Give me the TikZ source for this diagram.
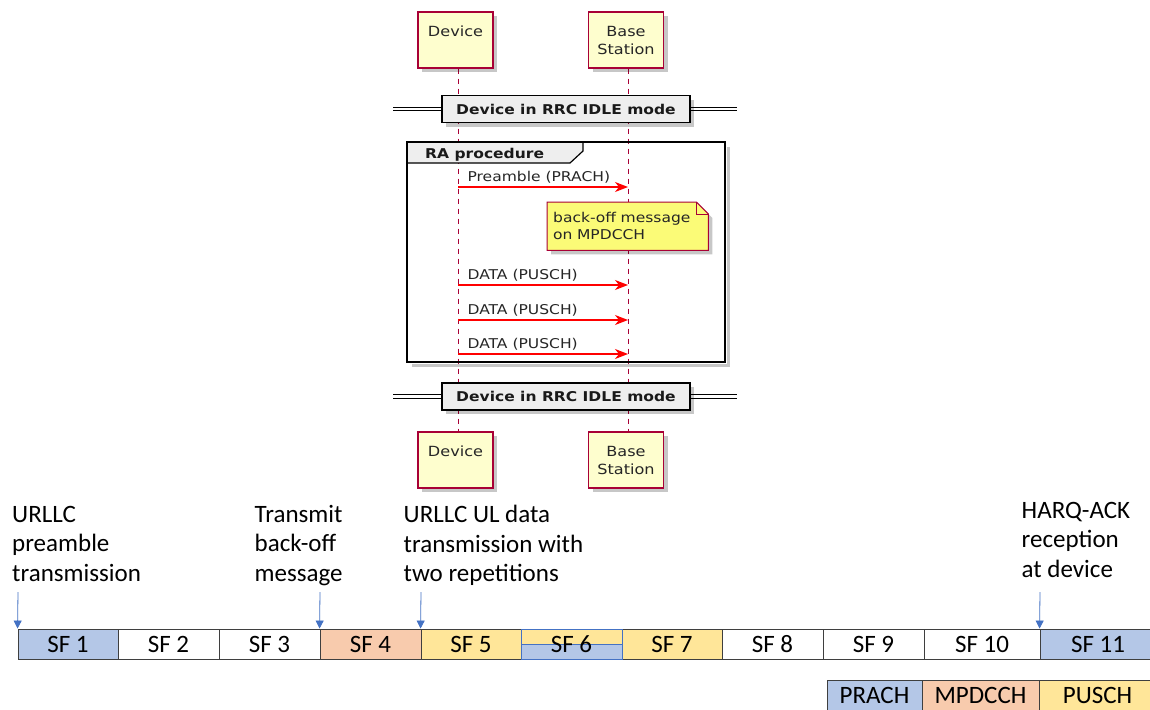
\documentclass[tikz,border=0pt]{standalone}
\usepackage{fontspec}
\setmainfont{Carlito}
\newfontfamily\seqfont[FakeStretch=1.15]{DejaVu Sans}
\usetikzlibrary{arrows.meta,shadows}
\pgfdeclarelayer{back}
\pgfsetlayers{back,main}

\definecolor{partfill}{HTML}{FEFECE}
\definecolor{partline}{HTML}{A80036}
\definecolor{notefill}{HTML}{FBFB77}
\definecolor{divfill}{HTML}{EEEEEE}
\definecolor{msgred}{HTML}{FF0000}
\definecolor{prachblue}{HTML}{B4C7E7}
\definecolor{mpdcchorange}{HTML}{F8CBAD}
\definecolor{puschyellow}{HTML}{FFE699}
\definecolor{markblue}{HTML}{4472C4}
\definecolor{gridline}{HTML}{3F3F3F}

\newcommand\firstlinestrut{\rule{0pt}{17pt}}

\tikzset{
  seqshadow/.style={drop shadow={shadow xshift=4pt, shadow yshift=-4pt, fill=black, opacity=0.22}},
  part/.style={draw=partline, line width=1.3pt, fill=partfill, minimum width=75pt,
    minimum height=56pt, inner sep=0pt, align=center, text=black!85,
    font={\seqfont\fontsize{14}{18}\selectfont}, seqshadow},
  lifeline/.style={draw=partline, line width=1pt, dash pattern=on 5pt off 5pt},
  divbar/.style={draw=black, line width=1pt, double=white, double distance=2.4pt},
  divbox/.style={draw=black, line width=1.6pt, fill=divfill, minimum width=248pt,
    minimum height=27pt, inner sep=0pt, text=black!90,
    font={\seqfont\bfseries\fontsize{13.5}{16}\selectfont}, seqshadow},
  msg/.style={draw=msgred, line width=1.2pt, -{Stealth[length=13pt,width=10pt,inset=4pt]}},
  msglabel/.style={font={\seqfont\fontsize{13.5}{16}\selectfont}, text=black!85,
    inner sep=0pt, anchor=base west},
  notetext/.style={font={\seqfont\fontsize{13.5}{17}\selectfont}, text=black!85,
    align=left, text width=149pt, inner xsep=6pt, inner ysep=0pt, minimum height=48pt},
  sfbox/.style={draw=gridline, line width=0.9pt, minimum height=30pt, inner sep=0pt,
    font={\fontsize{25}{29.5}\selectfont}},
  pointer/.style={draw=markblue, line width=0.8pt, -{Triangle[length=8pt,width=8pt]}, markblue},
  eventlabel/.style={anchor=north west, inner sep=0pt, align=left,
    font={\fontsize{25}{29.5}\selectfont}}
}

\begin{document}
\begin{tikzpicture}[x=1pt,y=-1pt]
\useasboundingbox (0,0) rectangle (1150,709);
\begin{pgfonlayer}{back}
  \fill[white] (0,0) rectangle (1150,709);
\end{pgfonlayer}

% ---------- participants ----------
\node[part] (dtop) at (455.5,40) {Device\\\phantom{Station}};
\node[part] (btop) at (626,40) {Base\\Station};
\node[part] (dbot) at (455.5,460) {Device\\\phantom{Station}};
\node[part] (bbot) at (626,460) {Base\\Station};

\begin{pgfonlayer}{back}
  \draw[lifeline] ([xshift=2.5pt]dtop.south) -- ([xshift=2.5pt]dbot.north);
  \draw[lifeline] ([xshift=2pt]btop.south) -- ([xshift=2pt]bbot.north);
\end{pgfonlayer}

% ---------- upper divider ----------
\coordinate (div1l) at (393,109);
\coordinate (div1r) at (737,109);
\draw[divbar] (div1l) -- (div1r);
\node[divbox] (div1) at (566,109) {Device in RRC IDLE mode};

% ---------- RA procedure group ----------
\node[draw=none, minimum width=318pt, minimum height=220pt, inner sep=0pt] (frame) at (566,252) {};
\draw[black, opacity=0.22, line width=3.5pt]
  ([shift={(3.5pt,-5pt)}]frame.north east) -- ([shift={(3.5pt,-3.5pt)}]frame.south east)
  -- ([shift={(5pt,-3.5pt)}]frame.south west);
\draw[black, line width=2pt] (frame.north west) rectangle (frame.south east);
\filldraw[fill=divfill, draw=black, line width=1.2pt]
  (407,142) -- (583,142) -- (583,151) -- (570,163) -- (407,163);
\draw[black, line width=2pt] (frame.north west) -- (frame.south west);
\draw[black, line width=2pt] (frame.north west) -- (frame.north east);
\node[inner sep=0pt, anchor=base west, text=black!90,
  font={\seqfont\bfseries\fontsize{13.5}{16}\selectfont}] (ratitle) at (425,158) {RA procedure};

% messages
\coordinate (m1d) at (458,187);   \coordinate (m1b) at (628,187);
\coordinate (m2d) at (458,285);   \coordinate (m2b) at (628,285);
\coordinate (m3d) at (458,320);   \coordinate (m3b) at (628,320);
\coordinate (m4d) at (458,354);   \coordinate (m4b) at (628,354);
\draw[msg] (m1d) -- (m1b) node[msglabel, pos=0, xshift=9pt, yshift=5.5pt] {Preamble (PRACH)};
\draw[msg] (m2d) -- (m2b) node[msglabel, pos=0, xshift=9pt, yshift=5.5pt] {DATA (PUSCH)};
\draw[msg] (m3d) -- (m3b) node[msglabel, pos=0, xshift=9pt, yshift=5.5pt] {DATA (PUSCH)};
\draw[msg] (m4d) -- (m4b) node[msglabel, pos=0, xshift=9pt, yshift=5.5pt] {DATA (PUSCH)};

% note with folded corner
\node[notetext, anchor=north west] (note) at (547,202) {back-off message\\on MPDCCH};
\begin{pgfonlayer}{back}
  \fill[black, opacity=0.22]
    ([shift={(4pt,-4pt)}]note.north west) -- ([shift={(-8pt,-4pt)}]note.north east)
    -- ([shift={(4pt,-16pt)}]note.north east) -- ([shift={(4pt,-4pt)}]note.south east)
    -- ([shift={(4pt,-4pt)}]note.south west) -- cycle;
  \filldraw[fill=notefill, draw=partline, line width=1pt]
    (note.north west) -- ([xshift=-12pt]note.north east) -- ([yshift=-12pt]note.north east)
    -- (note.south east) -- (note.south west) -- cycle;
  \draw[partline, line width=1pt]
    ([xshift=-12pt]note.north east) -- ([shift={(-12pt,-12pt)}]note.north east)
    -- ([yshift=-12pt]note.north east);
\end{pgfonlayer}

% ---------- lower divider ----------
\coordinate (div2l) at (393,396.5);
\coordinate (div2r) at (737,396.5);
\draw[divbar] (div2l) -- (div2r);
\node[divbox] (div2) at (566,396.5) {Device in RRC IDLE mode};

% ---------- subframe timeline ----------
\node[sfbox, fill=prachblue,    minimum width=100pt] (sf1)  at (68,644)    {SF 1};
\node[sfbox,                    minimum width=101pt] (sf2)  at (168.5,644) {SF 2};
\node[sfbox,                    minimum width=101pt] (sf3)  at (269.5,644) {SF 3};
\node[sfbox, fill=mpdcchorange, minimum width=101pt] (sf4)  at (370.5,644) {SF 4};
\node[sfbox, fill=puschyellow,  minimum width=100pt] (sf5)  at (471,644)   {SF 5};
\node[sfbox, fill=puschyellow,  minimum width=100pt] (sf7)  at (672,644)   {SF 7};
\node[sfbox,                    minimum width=101pt] (sf8)  at (772.5,644) {SF 8};
\node[sfbox,                    minimum width=101pt] (sf9)  at (873.5,644) {SF 9};
\node[sfbox,                    minimum width=116pt] (sf10) at (982,644)   {SF 10};
\node[sfbox, fill=prachblue,    minimum width=116pt] (sf11) at (1098,644)  {SF 11};
\node[sfbox, draw=markblue,     minimum width=101pt] (sf6)  at (571.5,644) {SF 6};
\begin{pgfonlayer}{back}
  \fill[puschyellow] (sf6.north west) rectangle (sf6.east);
  \fill[prachblue] (sf6.west) rectangle (sf6.south east);
  \draw[markblue, line width=0.9pt] (sf6.west) -- (sf6.east);
\end{pgfonlayer}

% event markers
\coordinate (p1) at (18,592);
\coordinate (p4) at (320,592);
\coordinate (p5) at (421,592);
\coordinate (p11) at (1040,592);
\draw[pointer] (p1) -- (sf1.north west);
\draw[pointer] (p4) -- (sf4.north west);
\draw[pointer] (p5) -- (sf5.north west);
\draw[pointer] (p11) -- (sf11.north west);

\node[eventlabel] (ev1) at (12,505) {\firstlinestrut URLLC\\preamble\\transmission};
\node[eventlabel] (ev4) at (254.5,505) {\firstlinestrut Transmit\\back-off\\message};
\node[eventlabel] (ev5) at (403.5,505) {\firstlinestrut URLLC UL data\\transmission with\\two repetitions};
\node[eventlabel] (ev11) at (1021.5,501) {\firstlinestrut HARQ-ACK\\reception\\at device};

% ---------- legend ----------
\node[sfbox, fill=prachblue,    minimum width=95pt]  (lgprach)  at (874.5,695)  {PRACH};
\node[sfbox, fill=mpdcchorange, minimum width=117pt] (lgmpdcch) at (980.5,695)  {MPDCCH};
\node[sfbox, fill=puschyellow,  minimum width=117pt] (lgpusch)  at (1097.5,695) {PUSCH};
\end{tikzpicture}
\end{document}
